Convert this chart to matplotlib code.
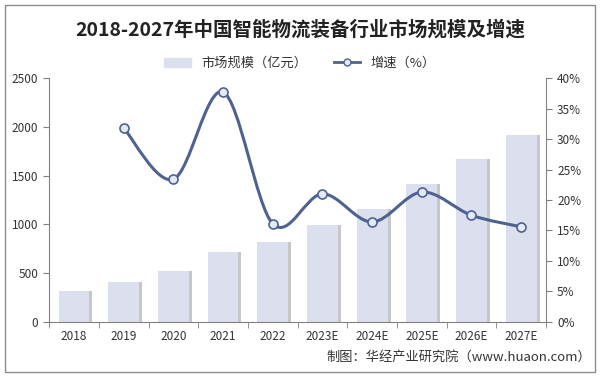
import matplotlib
matplotlib.use('Agg')
import matplotlib.pyplot as plt
import numpy as np
from matplotlib.path import Path
from matplotlib.patches import PathPatch, Rectangle
from matplotlib.lines import Line2D

plt.rcParams['font.family'] = ['Noto Sans CJK SC', 'DejaVu Sans']

years = ['2018', '2019', '2020', '2021', '2022', '2023E', '2024E', '2025E', '2026E', '2027E']
market = [318, 410, 522, 717, 820, 994, 1158, 1414, 1670, 1916]
growth = [None, 31.8, 23.4, 37.7, 16.1, 21.0, 16.4, 21.3, 17.5, 15.6]

bar_color = '#dce0ee'
line_color = '#4d6291'

fig = plt.figure(figsize=(6, 3.77), dpi=100)
fig.patches.append(Rectangle((0.008, 0.013), 0.984, 0.975, transform=fig.transFigure,
                             fill=False, edgecolor='#8c8c8c', linewidth=1))

ax = fig.add_axes([0.082, 0.146, 0.828, 0.647])
x = np.arange(len(years))

# shadow then bars
ax.bar(x + 0.06, market, width=0.62, color='#9a9a9a', alpha=0.55, zorder=1)
ax.bar(x, market, width=0.62, color=bar_color, zorder=2)
ax.set_ylim(0, 2500)
ax.set_xlim(-0.5, len(years) - 0.5)
ax.set_yticks(np.arange(0, 2501, 500))
ax.set_xticks(x)
ax.set_xticklabels(years)
ax.set_xticks(np.arange(-0.5, len(years), 1), minor=True)
ax.tick_params(axis='x', which='major', length=0, pad=6)
ax.tick_params(axis='x', which='minor', length=4, color='#808080')
ax.tick_params(axis='y', length=4, color='#808080', pad=4)
ax.tick_params(labelsize=8.5, labelcolor='#333333')
for s in ['top', 'right']:
    ax.spines[s].set_visible(False)
for s in ['left', 'bottom']:
    ax.spines[s].set_color('#808080')

ax2 = ax.twinx()
ax2.set_ylim(0, 40)
ax2.set_yticks(np.arange(0, 41, 5))
ax2.set_yticklabels([f'{v}%' for v in range(0, 41, 5)])
ax2.tick_params(axis='y', length=4, color='#808080', labelsize=8.5, labelcolor='#333333', pad=4)
for s in ['top', 'left', 'bottom']:
    ax2.spines[s].set_visible(False)
ax2.spines['right'].set_color('#808080')

# smoothed growth line (Catmull-Rom through the data points)
gx = np.array([i for i, g in enumerate(growth) if g is not None], dtype=float)
gy = np.array([g for g in growth if g is not None], dtype=float)
verts = [(gx[0], gy[0])]
codes = [Path.MOVETO]
t = 0.5
for i in range(len(gx) - 1):
    p0 = np.array([gx[max(i - 1, 0)], gy[max(i - 1, 0)]])
    p1 = np.array([gx[i], gy[i]])
    p2 = np.array([gx[i + 1], gy[i + 1]])
    p3 = np.array([gx[min(i + 2, len(gx) - 1)], gy[min(i + 2, len(gx) - 1)]])
    c1 = p1 + (p2 - p0) * t / 3
    c2 = p2 - (p3 - p1) * t / 3
    verts += [tuple(c1), tuple(c2), tuple(p2)]
    codes += [Path.CURVE4] * 3
ax2.add_patch(PathPatch(Path(verts, codes), fill=False, edgecolor=line_color,
                        linewidth=2.2, zorder=3))
ax2.plot(gx, gy, linestyle='none', marker='o', markersize=6.5,
         markerfacecolor='#e4eaf5', markeredgecolor=line_color, markeredgewidth=1.2, zorder=4)

# legend
handles = [Rectangle((0, 0), 1, 1, color=bar_color),
           Line2D([], [], color=line_color, linewidth=2, marker='o', markersize=5,
                  markerfacecolor='#e4eaf5', markeredgecolor=line_color)]
fig.legend(handles, ['市场规模（亿元）', '增速（%）'], loc='center', bbox_to_anchor=(0.5, 0.832),
           ncol=2, frameon=False, fontsize=9.5, handlelength=2.0, columnspacing=2.0,
           labelcolor='#333333')

fig.text(0.5, 0.92, '2018-2027年中国智能物流装备行业市场规模及增速', ha='center', va='center',
         fontsize=14, fontweight='bold', color='#222222')

fig.text(0.985, 0.053, '制图：华经产业研究院（www.huaon.com）', ha='right', va='center',
         fontsize=9.5, color='#333333')

fig.savefig('out.png', dpi=100)
